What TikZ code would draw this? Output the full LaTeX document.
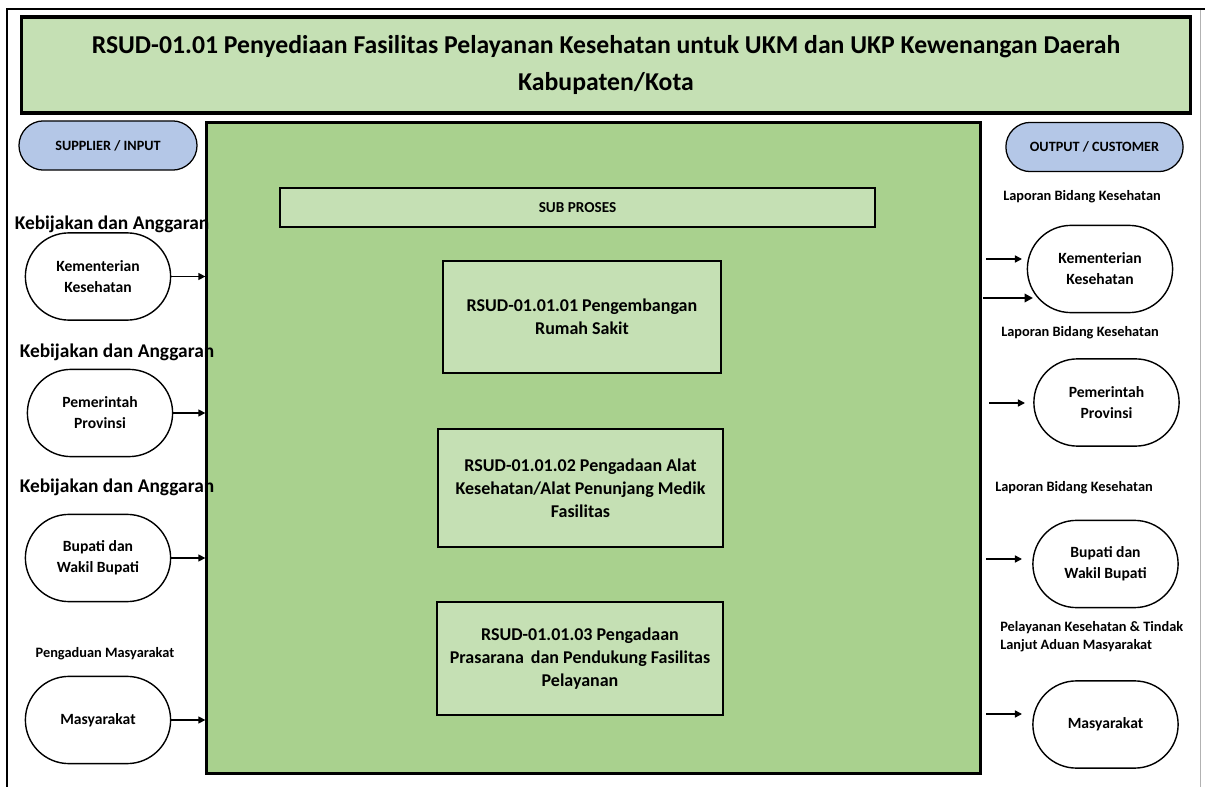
\documentclass[tikz,border=0pt]{standalone}
\usepackage{fontspec}
\setmainfont{Carlito}
\usetikzlibrary{arrows.meta,shapes.misc}
\definecolor{lgreen}{HTML}{C5E0B4}
\definecolor{mgreen}{HTML}{A9D18E}
\definecolor{lblue}{HTML}{B4C7E7}
\tikzset{
  pxu/.style={x=0.025cm,y=-0.025cm},
  titlebox/.style={draw=black,line width=2.2pt,fill=lgreen,minimum width=29.2cm,minimum height=2.4cm,inner sep=0pt,align=center,font=\bfseries\fontsize{18.3}{27}\selectfont},
  headpill/.style={draw=black,line width=0.9pt,fill=lblue,rounded rectangle,minimum height=1.23cm,inner sep=0pt,font=\bfseries\fontsize{10.1}{12}\selectfont},
  mainbox/.style={draw=black,line width=2.2pt,fill=mgreen,minimum width=19.325cm,minimum height=16.25cm,inner sep=0pt},
  subbar/.style={draw=black,line width=1.8pt,fill=lgreen,minimum width=14.875cm,minimum height=0.975cm,inner sep=0pt,font=\bfseries\fontsize{10.8}{12}\selectfont},
  procbox/.style={draw=black,line width=1.8pt,fill=lgreen,minimum height=2.85cm,inner sep=0pt,align=center,font=\bfseries\fontsize{12.8}{16.4}\selectfont},
  actor/.style={draw=black,line width=1pt,fill=white,rounded rectangle,minimum width=3.63cm,minimum height=2.18cm,inner sep=0pt,align=center,font=\bfseries\fontsize{11.1}{15}\selectfont},
  biglbl/.style={font=\bfseries\fontsize{13.8}{15}\selectfont,inner sep=0pt},
  smalllbl/.style={font=\bfseries\fontsize{10.2}{13}\selectfont,inner sep=0pt,align=left},
  arr/.style={line width=1pt,-{Triangle[length=5pt,width=5pt]}},
  thickarr/.style={line width=1.6pt,-{Triangle[length=6pt,width=6pt]}}
}
\begin{document}
\begin{tikzpicture}[pxu]
\useasboundingbox (0,0) rectangle (1205,787);
% outer frame
\draw[line width=1.8pt] (7,787) -- (7,9) -- (1205,9);
\draw[gray!60,line width=0.6pt] (1200,10) -- (1200,787);
% title
\node[titlebox] (title) at (606,65) {RSUD-01.01 Penyediaan Fasilitas Pelayanan Kesehatan untuk UKM dan UKP Kewenangan Daerah\\Kabupaten/Kota};
% header pills
\node[headpill,minimum width=4.45cm] (sup) at (108,145.5) {SUPPLIER / INPUT};
\node[headpill,minimum width=4.43cm] (out) at (1094.5,147) {OUTPUT / CUSTOMER};
% main box
\node[mainbox] (main) at (593.5,448) {};
\node[subbar] (sub) at (577.5,207.5) {SUB PROSES};
\node[procbox,minimum width=6.95cm,minimum height=2.8cm] (p1) at (582,317) {RSUD-01.01.01 Pengembangan\\Rumah Sakit};
\node[procbox,minimum width=7.125cm,minimum height=2.95cm] (p2) at (580.5,488) {RSUD-01.01.02 Pengadaan Alat\\Kesehatan/Alat Penunjang Medik\\Fasilitas};
\node[procbox,minimum width=7.15cm,minimum height=2.825cm] (p3) at (580,658.5) {RSUD-01.01.03 Pengadaan\\Prasarana\, dan Pendukung Fasilitas\\Pelayanan};
% left side
\node[biglbl] (k1) at (112,224) {Kebijakan dan Anggaran};
\node[biglbl] (k2) at (117,352) {Kebijakan dan Anggaran};
\node[biglbl] (k3) at (117,487) {Kebijakan dan Anggaran};
\node[smalllbl] (pm) at (105,654) {Pengaduan Masyarakat};
\node[actor] (l1) at (98,276.5) {Kementerian\\Kesehatan};
\node[actor] (l2) at (100,413) {Pemerintah\\Provinsi};
\node[actor] (l3) at (98,558) {Bupati dan\\Wakil Bupati};
\node[actor] (l4) at (98,720) {Masyarakat};
\draw[arr] (l1.east) -- (l1.east -| main.west);
\draw[arr] (l2.east) -- (l2.east -| main.west);
\draw[arr] (l3.east) -- (l3.east -| main.west);
\draw[arr] (l4.east) -- (l4.east -| main.west);
% right side
\node[smalllbl] (o1) at (1082,197) {Laporan Bidang Kesehatan};
\node[smalllbl] (o2) at (1080,333) {Laporan Bidang Kesehatan};
\node[smalllbl] (o3) at (1074,488) {Laporan Bidang Kesehatan};
\node[smalllbl,anchor=west] (o4) at (1000,637) {Pelayanan Kesehatan \& Tindak\\Lanjut Aduan Masyarakat};
\node[actor] (r1) at (1100,269) {Kementerian\\Kesehatan};
\node[actor] (r2) at (1106.5,402.5) {Pemerintah\\Provinsi};
\node[actor] (r3) at (1105.5,564) {Bupati dan\\Wakil Bupati};
\node[actor] (r4) at (1105.5,724.5) {Masyarakat};
\coordinate (a1s) at (986,259); \coordinate (a1e) at (1022,259);
\coordinate (a2s) at (983,298); \coordinate (a2e) at (1033,298);
\coordinate (a3s) at (989,403); \coordinate (a3e) at (1025,403);
\coordinate (a4s) at (986,559); \coordinate (a4e) at (1022,559);
\coordinate (a5s) at (986,714); \coordinate (a5e) at (1022,714);
\draw[arr] (a1s) -- (a1e);
\draw[thickarr] (a2s) -- (a2e);
\draw[arr] (a3s) -- (a3e);
\draw[arr] (a4s) -- (a4e);
\draw[arr] (a5s) -- (a5e);
\end{tikzpicture}
\end{document}
